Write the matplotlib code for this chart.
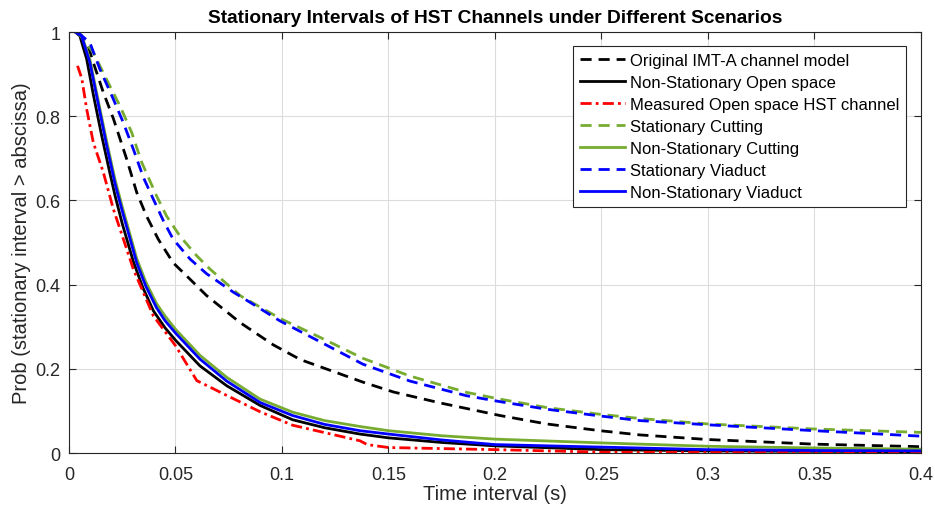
import matplotlib
matplotlib.use('Agg')
import matplotlib.pyplot as plt

plt.rcParams['font.family'] = ['Liberation Sans', 'DejaVu Sans']

# values
x_imta = [0.004, 0.009, 0.0114, 0.0161, 0.0208, 0.0271, 0.0318, 0.0364, 0.0419, 0.0489, 0.0568, 0.0646,
          0.0803, 0.0959, 0.1086, 0.1382, 0.1523, 0.1742, 0.2024, 0.2243, 0.2493, 0.268, 0.3, 0.35, 0.4]
y_imta = [1.0, 0.967, 0.928, 0.857, 0.795, 0.698, 0.619, 0.563, 0.508, 0.452, 0.413, 0.374,
          0.310, 0.257, 0.222, 0.168, 0.145, 0.119, 0.089, 0.069, 0.053, 0.043, 0.032, 0.021, 0.015]

x_ns_open = [0.003, 0.0051, 0.0083, 0.0114, 0.0153, 0.0192, 0.0216, 0.025, 0.0302, 0.0345, 0.0396, 0.045,
             0.05, 0.0615, 0.074, 0.0897, 0.105, 0.12, 0.1366, 0.15, 0.175, 0.2, 0.25, 0.3, 0.35, 0.4]
y_ns_open = [1.0, 0.991, 0.936, 0.852, 0.755, 0.665, 0.612, 0.545, 0.455, 0.395, 0.338, 0.298,
             0.268, 0.207, 0.16, 0.113, 0.079, 0.06, 0.045, 0.036, 0.025, 0.017, 0.008, 0.005, 0.004, 0.003]

x_meas = [0.004, 0.006, 0.0083, 0.0114, 0.0161, 0.0208, 0.0302, 0.0396, 0.05, 0.06, 0.074, 0.0897,
          0.105, 0.1366, 0.14, 0.15, 0.2, 0.25, 0.3, 0.35, 0.4]
y_meas = [0.92, 0.89, 0.817, 0.738, 0.667, 0.58, 0.437, 0.326, 0.255, 0.172, 0.137, 0.098,
          0.066, 0.029, 0.02, 0.013, 0.008, 0.002, 0.001, 0.001, 0.001]

x_st_cut = [0.004, 0.0114, 0.0176, 0.0239, 0.0294, 0.0341, 0.0411, 0.0458, 0.052, 0.0599, 0.0662, 0.0803,
            0.099, 0.1178, 0.138, 0.16, 0.1867, 0.2024, 0.2243, 0.2493, 0.268, 0.3, 0.35, 0.4]
y_st_cut = [1.0, 0.952, 0.888, 0.825, 0.762, 0.691, 0.611, 0.563, 0.516, 0.469, 0.437, 0.374,
            0.32, 0.275, 0.225, 0.183, 0.144, 0.128, 0.108, 0.092, 0.082, 0.069, 0.057, 0.049]

x_ns = [0.003, 0.0059, 0.0098, 0.0137, 0.0177, 0.0216, 0.025, 0.0318, 0.036, 0.0411, 0.045, 0.05,
        0.0615, 0.074, 0.0897, 0.105, 0.12, 0.1366, 0.15, 0.175, 0.2, 0.25, 0.3, 0.35, 0.4]
y_ns_cut = [1.0, 0.993, 0.935, 0.838, 0.74, 0.65, 0.585, 0.462, 0.407, 0.355, 0.326, 0.294,
            0.232, 0.18, 0.128, 0.097, 0.077, 0.063, 0.053, 0.041, 0.033, 0.024, 0.016, 0.012, 0.009]

x_st_via = [0.004, 0.0098, 0.0145, 0.0208, 0.0255, 0.0302, 0.0349, 0.0396, 0.0443, 0.0489, 0.0568, 0.0646,
            0.0772, 0.085, 0.099, 0.118, 0.138, 0.16, 0.1867, 0.2024, 0.2243, 0.2493, 0.268, 0.3, 0.35, 0.4]
y_st_via = [1.0, 0.975, 0.912, 0.841, 0.785, 0.722, 0.655, 0.603, 0.552, 0.508, 0.461, 0.426,
            0.382, 0.358, 0.314, 0.264, 0.211, 0.171, 0.136, 0.122, 0.104, 0.088, 0.077, 0.067, 0.053, 0.04]

y_ns_via = [1.0, 0.991, 0.928, 0.83, 0.73, 0.64, 0.575, 0.452, 0.397, 0.345, 0.315, 0.285,
            0.223, 0.171, 0.12, 0.089, 0.068, 0.053, 0.045, 0.031, 0.020, 0.014, 0.008, 0.006, 0.005]

xticks = [0, 0.05, 0.1, 0.15, 0.2, 0.25, 0.3, 0.35, 0.4]
xtick_labels = ['0', '0.05', '0.1', '0.15', '0.2', '0.25', '0.3', '0.35', '0.4']
yticks = [0, 0.2, 0.4, 0.6, 0.8, 1]
ytick_labels = ['0', '0.2', '0.4', '0.6', '0.8', '1']

green = '#77AC30'
txt = '#262626'
lw = 2.0
dash = (4, 2.5)

fig = plt.figure(figsize=(9.35, 5.1), dpi=100)
ax = fig.add_axes([0.0738, 0.1098, 0.9112, 0.8252])

ax.plot(x_imta, y_imta, color='k', lw=lw, dashes=dash, label='Original IMT-A channel model')
ax.plot(x_ns_open, y_ns_open, color='k', lw=lw, label='Non-Stationary Open space')
ax.plot(x_meas, y_meas, color='r', lw=lw, linestyle=(0, (4, 1.5, 1, 1.5)), label='Measured Open space HST channel')
ax.plot(x_st_cut, y_st_cut, color=green, lw=lw, dashes=dash, label='Stationary Cutting')
ax.plot(x_ns, y_ns_cut, color=green, lw=lw, label='Non-Stationary Cutting')
ax.plot(x_st_via, y_st_via, color='b', lw=lw, dashes=dash, label='Stationary Viaduct')
ax.plot(x_ns, y_ns_via, color='b', lw=lw, label='Non-Stationary Viaduct')

ax.set_xlim(0, 0.4)
ax.set_ylim(0, 1)
ax.set_xticks(xticks)
ax.set_xticklabels(xtick_labels)
ax.set_yticks(yticks)
ax.set_yticklabels(ytick_labels)
ax.tick_params(direction='in', top=True, right=True, labelsize=13, colors=txt, length=5)
ax.tick_params(axis='x', pad=9)
ax.tick_params(axis='y', pad=6)
for s in ax.spines.values():
    s.set_color(txt)
    s.set_linewidth(0.8)
ax.grid(True, color='#dcdcdc', linewidth=0.8)
ax.set_axisbelow(True)

ax.set_xlabel('Time interval (s)', fontsize=14.5, color=txt, labelpad=1)
ax.set_ylabel('Prob (stationary interval > abscissa)', fontsize=14.5, color=txt, labelpad=3)
ax.set_title('Stationary Intervals of HST Channels under Different Scenarios',
             fontsize=13.8, fontweight='bold', pad=7)

leg = ax.legend(loc='upper right', bbox_to_anchor=(0.982, 0.966), borderaxespad=0,
                fontsize=12, handlelength=2.75, handletextpad=0.25, labelspacing=0.42,
                fancybox=False, framealpha=1, edgecolor=txt, borderpad=0.4)
leg.get_frame().set_linewidth(0.8)

fig.savefig('out.png', dpi=100)
